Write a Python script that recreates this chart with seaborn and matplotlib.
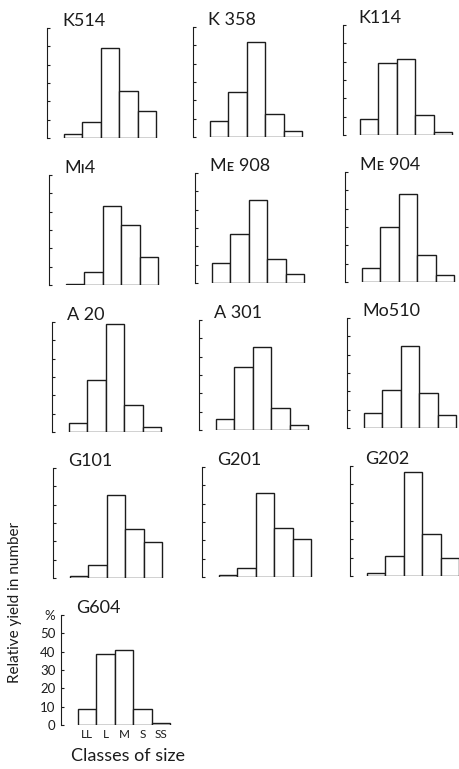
import matplotlib
matplotlib.use("Agg")
import matplotlib.pyplot as plt
import seaborn as sns
import pandas as pd

sns.set_style("white")
plt.rcParams['font.family'] = ['Lato', 'DejaVu Sans']

# ---- data ----
classes = ["LL", "L", "M", "S", "SS"]
class_labels = ["LL", "L", "M", "S", "SS"]
names = ["K514", "K 358", "K114",
         "M\u026a4", "M\u1d07 908", "M\u1d07 904",
         "A 20", "A 301", "Mo510",
         "G101", "G201", "G202",
         "G604"]
K514 = [2, 9, 49, 25.5, 15]
K358 = [8.5, 24.5, 52, 12.5, 3.5]
K114 = [9, 39.5, 41.5, 11, 1.8]
Mi4 = [0.5, 7, 43, 33, 15.5]
Me908 = [11, 27, 45.5, 13, 5]
Me904 = [7.5, 30, 48, 15, 4]
A20 = [5, 28.5, 59, 15, 3]
A301 = [6, 34.5, 45.5, 12, 3]
Mo510 = [8, 21, 45, 19, 7]
G101 = [1, 7, 45.5, 27, 19.5]
G201 = [1, 5, 46, 27, 21]
G202 = [1.6, 11, 57, 23, 10]
G604 = [9, 38.5, 41, 9, 1]
series = [K514, K358, K114, Mi4, Me908, Me904, A20, A301, Mo510,
          G101, G201, G202, G604]
yticks = [0, 10, 20, 30, 40, 50, 60]
ytick_labels = ["0", "10", "20", "30", "40", "50", "%"]

# ---- layout (pixels: left spine x, baseline y from top) ----
W, H = 460, 769
spine_x = [47, 193, 343, 49, 195, 345, 52, 199, 347, 53, 202, 350, 61]
base_y = [138, 137, 135, 285, 283, 282, 432, 430, 428, 578, 577, 576, 725]
ax_w, ax_h = 113, 110
x0, x1 = -1.42, 4.7

fig = plt.figure(figsize=(W / 100, H / 100), dpi=100)
fig.patch.set_facecolor("white")

ink = "#1c1c1c"
for i, (name, vals) in enumerate(zip(names, series)):
    ax = fig.add_axes([spine_x[i] / W, (H - base_y[i]) / H, ax_w / W, ax_h / H])
    df = pd.DataFrame({"cls": classes, "val": vals})
    sns.barplot(data=df, x="cls", y="val", order=classes, ax=ax, width=1,
                color="white", edgecolor=ink, linewidth=1.0, saturation=1)
    ax.set_xlim(x0, x1)
    ax.set_ylim(0, 60)
    ax.set_xlabel("")
    ax.set_ylabel("")
    ax.set_facecolor("none")
    for s in ["top", "right", "bottom"]:
        ax.spines[s].set_visible(False)
    ax.spines["left"].set_color(ink)
    ax.spines["left"].set_linewidth(0.8)
    ax.set_yticks(yticks)
    last = (i == len(names) - 1)
    ax.tick_params(axis="y", which="major", left=True, direction="in",
                   length=2.5, width=0.8, color=ink, pad=4, labelleft=last)
    ax.tick_params(axis="x", bottom=False, length=0, labelbottom=last)
    if last:
        ax.set_yticklabels(ytick_labels, fontsize=9.5, color=ink)
        ax.set_xticks(range(len(classes)))
        ax.set_xticklabels(class_labels, fontsize=8.5, color=ink)
        ax.tick_params(axis="x", pad=3)
    else:
        ax.set_xticks([])
    ax.text(-0.6, 61, name, fontsize=13, color=ink, ha="left",
            va="baseline", clip_on=False)

fig.text(15 / W, (H - 602) / H, "Relative yield in number", rotation=90,
         ha="center", va="center", fontsize=11, color=ink)
fig.text(128 / W, (H - 756) / H, "Classes of size", ha="center",
         va="center", fontsize=13, color=ink)

fig.savefig("out.png", dpi=100, facecolor="white")
